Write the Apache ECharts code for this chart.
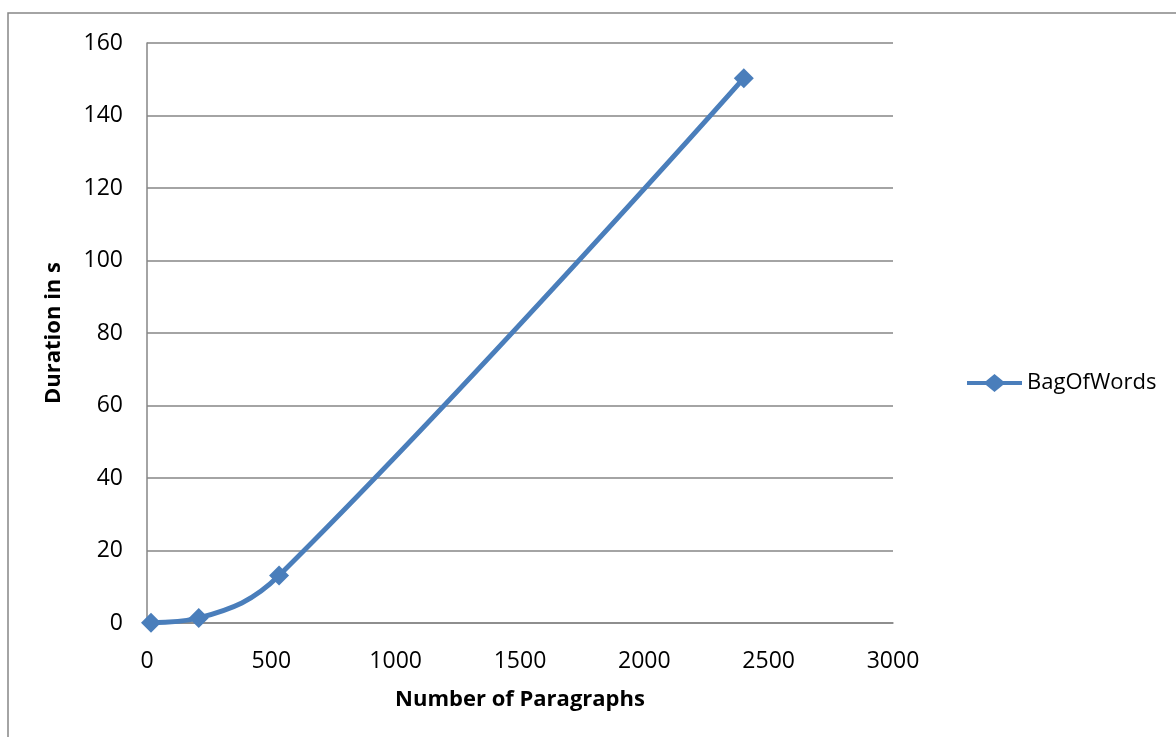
<!DOCTYPE html>
<html>
<head>
<meta charset="utf-8">
<script src="https://cdn.jsdelivr.net/npm/echarts@6/dist/echarts.min.js"></script>
<style>
html,body{margin:0;padding:0;background:#fff;}
#chart{width:1176px;height:737px;}
</style>
</head>
<body>
<div id="chart"></div>
<script>
var seriesName = 'BagOfWords';
var paragraphs = [16, 208, 531, 2400];
var durations = [0.1, 1.4, 13.1, 150.3];
var xTitle = 'Number of Paragraphs';
var yTitle = 'Duration in s';

var FONT = 'Open Sans';
var chart = echarts.init(document.getElementById('chart'));
var points = paragraphs.map(function (x, i) { return [x, durations[i]]; });

chart.setOption({
  backgroundColor: '#ffffff',
  animation: false,
  graphic: [{
    type: 'rect',
    shape: { x: 8, y: 13, width: 1200, height: 800 },
    style: { fill: 'none', stroke: '#868686', lineWidth: 1.5 },
    silent: true
  }],
  grid: { left: 147, top: 43, right: 283, bottom: 114, containLabel: false },
  legend: {
    data: [{ name: seriesName, icon: 'path://M0,7 L19,7 L27.5,0 L36,7 L55,7 L55,11 L36,11 L27.5,18 L19,11 L0,11 Z' }],
    left: 962,
    top: 367,
    itemWidth: 55,
    itemHeight: 18,
    itemGap: 4,
    textStyle: { fontFamily: FONT, fontSize: 22, color: '#000', padding: [0, 0, 0, 0] }
  },
  xAxis: {
    type: 'value',
    min: 0, max: 3000, interval: 500,
    name: xTitle,
    nameLocation: 'middle',
    nameGap: 66,
    nameTextStyle: { fontFamily: FONT, fontSize: 22, fontWeight: 'bold', color: '#000' },
    axisLine: { show: true, lineStyle: { color: '#868686', width: 1.5 } },
    axisTick: { show: false },
    splitLine: { show: false },
    axisLabel: { fontFamily: FONT, fontSize: 23, color: '#000', margin: 27, formatter: function (v) { return String(v); } }
  },
  yAxis: {
    type: 'value',
    min: 0, max: 160, interval: 20,
    name: yTitle,
    nameLocation: 'middle',
    nameGap: 82,
    nameRotate: 90,
    nameTextStyle: { fontFamily: FONT, fontSize: 22, fontWeight: 'bold', color: '#000' },
    axisLine: { show: true, lineStyle: { color: '#868686', width: 1.5 } },
    axisTick: { show: false },
    splitLine: { show: true, lineStyle: { color: '#868686', width: 1.5 } },
    axisLabel: { fontFamily: FONT, fontSize: 23, color: '#000', margin: 24, formatter: function (v) { return String(v); } }
  },
  series: [{
    name: seriesName,
    type: 'line',
    data: points,
    smooth: 0.4,
    symbol: 'diamond',
    symbolSize: 20,
    color: '#4A7EBB',
    lineStyle: { color: '#4A7EBB', width: 5 },
    itemStyle: { color: '#4A7EBB' }
  }]
});
</script>
</body>
</html>
